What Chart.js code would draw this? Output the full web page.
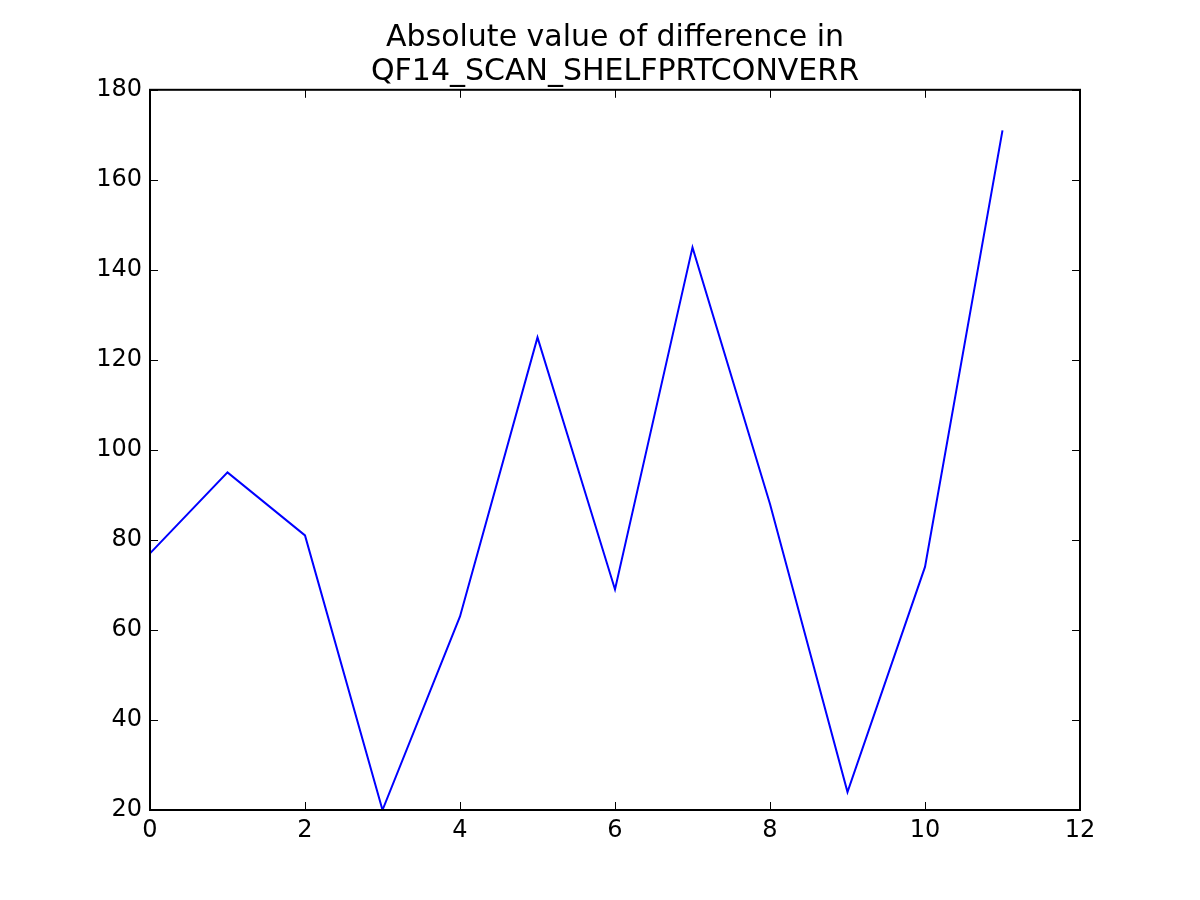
<!DOCTYPE html>
<html>
<head>
<meta charset="utf-8">
<script src="https://cdn.jsdelivr.net/npm/chart.js@4"></script>
<style>
  html, body { margin: 0; padding: 0; background: #fff; }
  #wrap { width: 1200px; height: 900px; }
</style>
</head>
<body>
<div id="wrap"><canvas id="grafico-diff" width="1200" height="900"></canvas></div>
<script>
// valores
const xValues = [0, 1, 2, 3, 4, 5, 6, 7, 8, 9, 10, 11];
const diffValues = [77, 95, 81, 20, 63, 125, 69, 145, 88, 24, 74, 171];
const xTicks = [0, 2, 4, 6, 8, 10, 12];
const yTicks = [20, 40, 60, 80, 100, 120, 140, 160, 180];
const titleLines = ['Absolute value of difference in', 'QF14_SCAN_SHELFPRTCONVERR'];

const points = xValues.map((x, i) => ({ x: x, y: diffValues[i] }));

// moldura + ticks para dentro (estilo matplotlib)
const frameTicks = {
  id: 'frameTicks',
  afterDraw(chart) {
    const c = chart.ctx;
    const a = chart.chartArea;
    const sx = chart.scales.x, sy = chart.scales.y;
    const len = 8;
    c.save();
    c.strokeStyle = '#000';
    c.lineWidth = 1;
    c.beginPath();
    xTicks.forEach(v => {
      const px = Math.round(sx.getPixelForValue(v)) + 0.5;
      c.moveTo(px, a.bottom); c.lineTo(px, a.bottom - len);
      c.moveTo(px, a.top); c.lineTo(px, a.top + len);
    });
    yTicks.forEach(v => {
      const py = Math.round(sy.getPixelForValue(v)) + 0.5;
      c.moveTo(a.left, py); c.lineTo(a.left + len, py);
      c.moveTo(a.right, py); c.lineTo(a.right - len, py);
    });
    c.stroke();
    c.lineWidth = 2;
    c.strokeRect(a.left, a.top, a.right - a.left, a.bottom - a.top);
    c.restore();
  }
};

const ctx = document.getElementById('grafico-diff').getContext('2d');
const data = {
  datasets: [{
    data: points,
    borderColor: '#0000ff',
    borderWidth: 2,
    pointRadius: 0,
    tension: 0,
    fill: false
  }]
};
const options = {
  responsive: false,
  animation: false,
  layout: { padding: { left: 0, right: 120, top: 0, bottom: 0 } },
  plugins: {
    legend: { display: false },
    tooltip: { enabled: false },
    title: {
      display: true,
      text: titleLines,
      fullSize: false,
      color: '#000',
      font: { family: 'DejaVu Sans', size: 30, weight: 'normal', lineHeight: 1.13 },
      padding: { top: 21, bottom: 1 }
    }
  },
  scales: {
    x: {
      type: 'linear',
      min: 0,
      max: 12,
      grid: { display: false, drawTicks: false },
      border: { display: false },
      afterFit: s => { s.height = 90; },
      afterBuildTicks: s => { s.ticks = xTicks.map(v => ({ value: v })); },
      ticks: {
        color: '#000',
        padding: 6,
        maxRotation: 0,
        font: { family: 'DejaVu Sans', size: 24 }
      }
    },
    y: {
      min: 20,
      max: 180,
      grid: { display: false, drawTicks: false },
      border: { display: false },
      afterFit: s => { s.width = 150; },
      afterBuildTicks: s => { s.ticks = yTicks.map(v => ({ value: v })); },
      ticks: {
        color: '#000',
        padding: 8,
        font: { family: 'DejaVu Sans', size: 24 }
      }
    }
  }
};
new Chart(ctx, {
  type: 'line',
  data: data,
  options: options,
  plugins: [frameTicks]
});
</script>
</body>
</html>
